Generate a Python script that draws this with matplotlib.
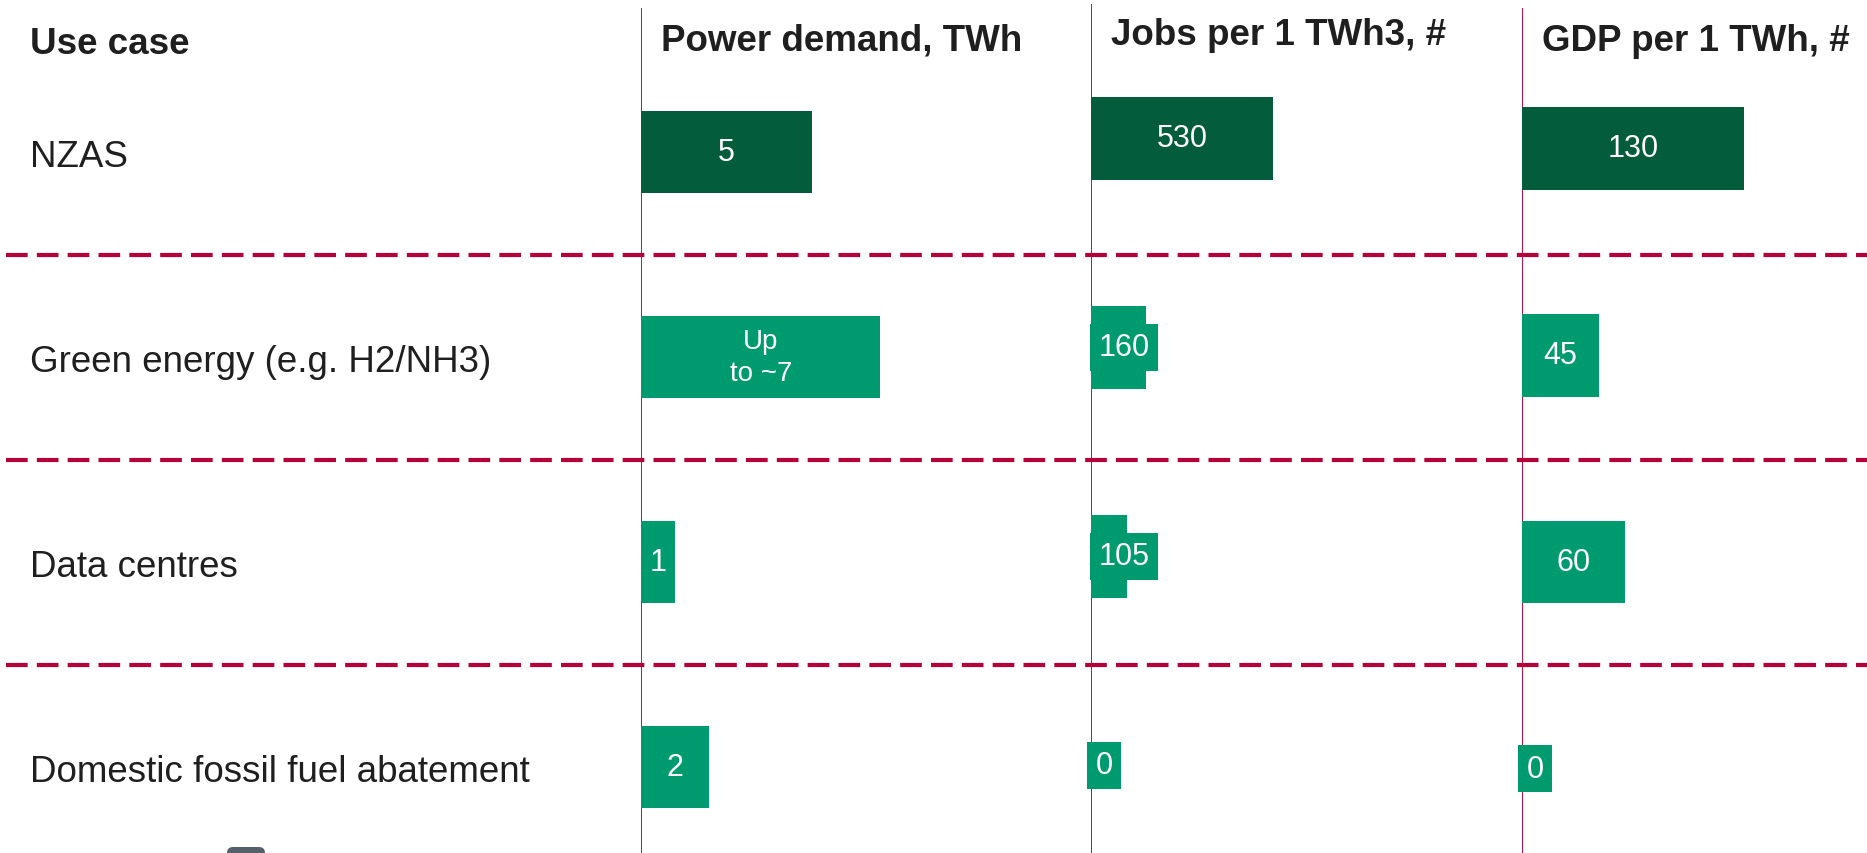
import matplotlib
matplotlib.use("Agg")
import matplotlib.pyplot as plt
from matplotlib import transforms
from matplotlib.lines import Line2D
from matplotlib.patches import FancyBboxPatch

# data
use_cases = ["NZAS", "Green energy (e.g. H2/NH3)", "Data centres",
             "Domestic fossil fuel abatement"]
power_twh = [5, 7, 1, 2]
power_labels = ["5", "Up\nto ~7", "1", "2"]
jobs_per_twh = [530, 160, 105, 0]
jobs_labels = ["530", "160", "105", "0"]
gdp_per_twh = [130, 45, 60, 0]
gdp_labels = ["130", "45", "60", "0"]
headers = ["Power demand, TWh", "Jobs per 1 TWh3, #", "GDP per 1 TWh, #"]

W, H = 1867, 854
DARK = "#035c3b"
GREEN = "#009a6f"
RED = "#b5003a"
VLINE = "#c4103c"
TXT = "#1f1f1f"

plt.rcParams['font.family'] = ['Liberation Sans', 'DejaVu Sans']

fig = plt.figure(figsize=(W / 100, H / 100), dpi=100)


def column(left, right, c0, step, px_per_unit, top):
    # one axes per metric column, categories 0..3 from top to bottom
    ax = fig.add_axes([left / W, 0, (right - left) / W, 1])
    ax.set_xlim(0, (right - left) / px_per_unit)
    ax.set_ylim((H - c0) / step, -c0 / step)
    ax.axis('off')
    ax.axvline(0, ymin=0, ymax=1 - top / H, color=VLINE, lw=1.4, zorder=0.5)
    return ax


ax_p = column(641, 1091, 153, 205, 34.2, 10)
ax_j = column(1091, 1522, 139.5, 209, 0.3435, 6)
ax_g = column(1522, 1867, 149.5, 206.7, 1.71, 10)

colors = [DARK] + [GREEN] * (len(use_cases) - 1)
labels = []
for ax, vals, labs in [(ax_p, power_twh, power_labels),
                       (ax_j, jobs_per_twh, jobs_labels),
                       (ax_g, gdp_per_twh, gdp_labels)]:
    ax.barh(range(len(vals)), vals, height=0.4, color=colors, zorder=1)
    for i, (v, lab) in enumerate(zip(vals, labs)):
        fs = 20 if "\n" in lab else 22
        t = ax.text(v / 2, i, lab, ha='center', va='center', color='white',
                    fontsize=fs, linespacing=1.3, zorder=3,
                    bbox=dict(boxstyle='square,pad=0.28', fc=colors[i],
                              ec='none'))
        labels.append((ax, t))

# headers
fig.text(30 / W, 1 - 54 / H, "Use case", fontsize=26.5, fontweight='bold',
         color=TXT, va='baseline')
for ax, head, base in [(ax_p, headers[0], 51), (ax_j, headers[1], 45),
                       (ax_g, headers[2], 51)]:
    x0 = ax.get_position().x0 + 20 / W
    fig.text(x0, 1 - base / H, head, fontsize=26.5, fontweight='bold',
             color=TXT, va='baseline')

# row labels
row_tr = transforms.offset_copy(
    transforms.blended_transform_factory(fig.transFigure, ax_p.transData),
    fig=fig, x=0, y=-14, units='dots')
for i, name in enumerate(use_cases):
    fig.text(30 / W, i, name, fontsize=26.5, color=TXT, va='baseline',
             transform=row_tr)

# dashed separators between rows
sep_tr = transforms.blended_transform_factory(fig.transFigure, ax_p.transData)
for k in range(len(use_cases) - 1):
    fig.add_artist(Line2D([6 / W, 1], [k + 0.5, k + 0.5], transform=sep_tr,
                          color=RED, lw=3.0, dashes=(5.2, 2.2)))

# small cut-off icon at the bottom edge
fig.add_artist(FancyBboxPatch((227, -14), 38, 20,
                              boxstyle='round,pad=0,rounding_size=6',
                              transform=transforms.IdentityTransform(),
                              fc="#55606a", ec='none'))

# push label boxes that overflow to the left back onto the axis line
fig.canvas.draw()
renderer = fig.canvas.get_renderer()
for ax, t in labels:
    bb = t.get_bbox_patch().get_window_extent(renderer)
    left_px = ax.transData.transform((0, 0))[0]
    if bb.x0 < left_px - 1:
        dx = left_px - bb.x0 - (4 if t.get_text() == "0" else 1)
        t.set_transform(transforms.offset_copy(ax.transData, fig=fig, x=dx,
                                               y=0, units='dots'))

fig.savefig("out.png", dpi=100)
